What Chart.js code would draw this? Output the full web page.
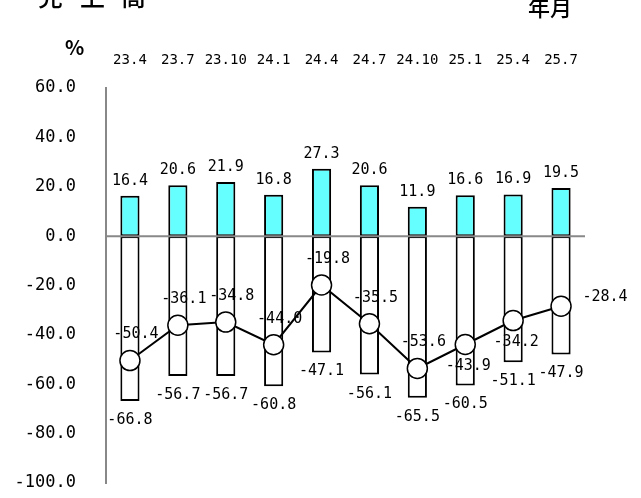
<!DOCTYPE html>
<html>
<head>
<meta charset="utf-8">
<script src="https://cdn.jsdelivr.net/npm/chart.js@4"></script>
<style>
    body { margin: 0; background: #fff; }
    #wrap { width: 641px; height: 498px; }
</style>
</head>
<body>
<div id="wrap"><canvas id="chart" width="641" height="498"></canvas></div>
<script>
// period labels (year.month)
const periods = ['23.4', '23.7', '23.10', '24.1', '24.4', '24.7', '24.10', '25.1', '25.4', '25.7'];
// share of firms reporting increase (%)
const upValues = [16.4, 20.6, 21.9, 16.8, 27.3, 20.6, 11.9, 16.6, 16.9, 19.5];
// share reporting decrease (%)
const downValues = [-66.8, -56.7, -56.7, -60.8, -47.1, -56.1, -65.5, -60.5, -51.1, -47.9];
// DI (increase minus decrease)
const diValues = [-50.4, -36.1, -34.8, -44.0, -19.8, -35.5, -53.6, -43.9, -34.2, -28.4];
const yTicks = [60, 40, 20, 0, -20, -40, -60, -80, -100];

// where each DI label sits relative to its point
const diLabelSide = ['above', 'above', 'above', 'above', 'above', 'above', 'above', 'below', 'below', 'right'];

const MONO = '"DejaVu Sans Mono", "Liberation Mono", monospace';
const JP = '"Noto Sans CJK JP", sans-serif';

const labelPlugin = {
    id: 'labels',
    afterDatasetsDraw(chart) {
        const c = chart.ctx;
        const y = chart.scales.y;
        const area = chart.chartArea;

        // zero line sits on top of the bars
        const y0 = y.getPixelForValue(0);
        c.save();
        c.strokeStyle = '#888';
        c.lineWidth = 2;
        c.beginPath();
        c.moveTo(area.left, y0);
        c.lineTo(area.right, y0);
        c.stroke();

        c.fillStyle = '#000';
        c.textAlign = 'center';
        c.textBaseline = 'middle';
        c.font = '15px ' + MONO;

        chart.getDatasetMeta(0).data.forEach((bar, i) => {
            c.fillText(upValues[i].toFixed(1), bar.x, bar.y - 15);
        });
        chart.getDatasetMeta(1).data.forEach((bar, i) => {
            c.fillText(downValues[i].toFixed(1), bar.x, bar.y + 19);
        });
        chart.getDatasetMeta(2).data.forEach((pt, i) => {
            const t = diValues[i].toFixed(1);
            const side = diLabelSide[i];
            if (side === 'above') c.fillText(t, pt.x + 6, pt.y - 26);
            else if (side === 'below') c.fillText(t, pt.x + 3, pt.y + 22);
            else c.fillText(t, pt.x + 44, pt.y - 9);
        });
        c.restore();
    },
    afterDraw(chart) {
        const c = chart.ctx;
        c.save();
        c.fillStyle = '#000';
        c.textBaseline = 'alphabetic';
        c.font = '500 25px ' + JP;
        c.fillText('売', 38, 6);
        c.fillText('上', 80, 6);
        c.fillText('高', 121, 6);
        c.font = '500 22px ' + JP;
        c.fillText('年月', 528, 16);
        c.font = 'bold 20px ' + JP;
        c.fillText('%', 65, 55);
        c.restore();
    }
};

new Chart(document.getElementById('chart'), {
    data: {
        labels: periods,
        datasets: [
            {
                type: 'bar',
                data: upValues,
                backgroundColor: '#66FFFF',
                borderColor: '#000',
                borderWidth: 2,
                borderSkipped: false,
                barPercentage: 0.4,
                categoryPercentage: 1,
                grouped: false,
                order: 1
            },
            {
                type: 'bar',
                data: downValues,
                backgroundColor: '#fff',
                borderColor: '#000',
                borderWidth: 2,
                borderSkipped: false,
                barPercentage: 0.4,
                categoryPercentage: 1,
                grouped: false,
                order: 1
            },
            {
                type: 'line',
                data: diValues,
                borderColor: '#000',
                borderWidth: 2,
                pointRadius: 10,
                pointBackgroundColor: '#fff',
                pointBorderColor: '#000',
                pointBorderWidth: 1.5,
                order: 0
            }
        ]
    },
    options: {
        responsive: false,
        animation: false,
        layout: { padding: { top: 50, right: 56, bottom: 15, left: 0 } },
        plugins: {
            legend: { display: false },
            tooltip: { enabled: false }
        },
        scales: {
            x: {
                position: 'top',
                grid: { display: false, drawTicks: false },
                border: { display: false },
                ticks: {
                    color: '#000',
                    font: { family: MONO, size: 14 },
                    padding: 19,
                    maxRotation: 0,
                    autoSkip: false
                },
                afterFit(s) { s.height = 38; }
            },
            y: {
                min: -100,
                max: 60,
                afterBuildTicks(s) { s.ticks = yTicks.map(v => ({ value: v })); },
                grid: { display: false, drawTicks: false },
                border: { display: true, color: '#888', width: 2 },
                ticks: {
                    color: '#000',
                    font: { family: MONO, size: 17 },
                    padding: 30,
                    callback: v => Number(v).toFixed(1)
                },
                afterFit(s) {
                    s.width = 106;
                    s.paddingTop = 0;
                    s.paddingBottom = 0;
                }
            }
        }
    },
    plugins: [labelPlugin]
});
</script>
</body>
</html>
